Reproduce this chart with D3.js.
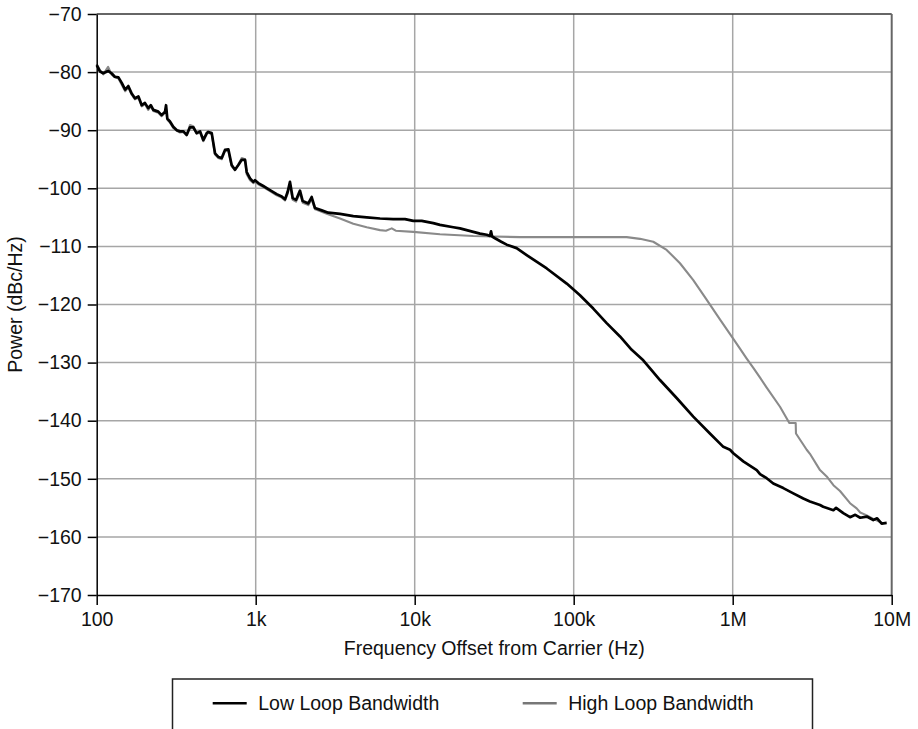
<!DOCTYPE html>
<html>
<head>
<meta charset="utf-8">
<script src="https://cdn.jsdelivr.net/npm/d3@7"></script>
<style>
  html, body { margin: 0; padding: 0; background: #fff; }
  svg { display: block; }
  text { font-family: "Liberation Sans", Arial, Helvetica, sans-serif; fill: #111; }
</style>
</head>
<body>
<svg id="chart" width="918" height="729"></svg>
<script>
const xTickValues = [100, 1e3, 1e4, 1e5, 1e6, 1e7];
const xTickLabels = ["100", "1k", "10k", "100k", "1M", "10M"];
const yTickValues = [-70, -80, -90, -100, -110, -120, -130, -140, -150, -160, -170];
const yTickLabels = ["\u221270", "\u221280", "\u221290", "\u2212100", "\u2212110", "\u2212120", "\u2212130", "\u2212140", "\u2212150", "\u2212160", "\u2212170"];
const seriesNames = ["Low Loop Bandwidth", "High Loop Bandwidth"];

const lowFreq = [100,105,110,118,124,130,137,144,151,158,166,174,183,192,201,211,219,227,244,256,269,273,278,289,303,319,334,351,368,386,405,425,447,468,492,503,529,555,582,611,641,673,706,741,778,817,857,878,921,966,990,1038,1116,1230,1355,1458,1528,1589,1643,1709,1793,1899,1975,2142,2249,2360,2602,2861,3390,4110,4992,6052,7320,8690,9800,11070,13090,14420,17500,19270,23360,25740,28370,29730,30200,30700,32000,35000,37900,43750,50600,67700,90400,109500,132800,161200,195500,231600,273800,348800,444000,565000,719000,873000,962000,1009000,1166000,1416000,1486000,1636000,1800000,2081000,2405000,2780000,3060000,3540000,3710000,4300000,4470000,4960000,5470000,5900000,6340000,6970000,7660000,8100000,8650000,9300000];
const lowPower = [-78.8,-79.9,-80.2,-79.8,-80.2,-80.8,-80.9,-81.9,-83.0,-82.4,-83.7,-84.5,-84.2,-85.7,-85.3,-86.2,-85.7,-86.5,-86.8,-87.4,-86.8,-85.7,-88.0,-88.5,-89.4,-90.0,-90.2,-90.2,-90.8,-89.5,-89.5,-90.5,-90.2,-91.7,-90.5,-90.3,-90.5,-94.0,-94.6,-94.8,-93.4,-93.3,-96.0,-96.8,-96.0,-95.1,-95.1,-97.2,-98.3,-98.9,-98.6,-99.1,-99.6,-100.3,-101.0,-101.4,-101.9,-100.6,-98.9,-101.7,-102.0,-100.4,-102.2,-102.6,-101.5,-103.4,-103.8,-104.2,-104.4,-104.8,-105.0,-105.2,-105.3,-105.3,-105.6,-105.6,-106.0,-106.3,-106.7,-106.9,-107.5,-107.8,-108.0,-108.2,-107.4,-108.3,-108.6,-109.2,-109.7,-110.3,-111.5,-113.8,-116.4,-118.4,-120.7,-123.2,-125.5,-127.8,-129.6,-133.0,-136.1,-139.3,-142.2,-144.5,-145.0,-145.6,-147.0,-148.5,-149.2,-149.9,-150.8,-151.6,-152.5,-153.4,-153.9,-154.5,-154.8,-155.4,-155.0,-155.9,-156.6,-156.2,-156.7,-156.5,-157.1,-156.8,-157.7,-157.6];

const highFreq = [100,105,110,118,124,130,137,144,151,158,166,174,183,192,201,211,219,227,244,256,269,273,278,289,303,319,334,351,368,386,405,425,447,468,492,503,529,555,582,611,641,673,706,741,778,817,857,878,921,966,990,1038,1116,1230,1355,1458,1528,1589,1643,1709,1793,1899,1975,2142,2249,2360,2418,2796,3390,4110,4992,6052,6590,7170,7600,9800,14420,23360,31200,45900,100000,215400,261300,316600,384000,466000,565000,687000,833000,1009000,1111000,1225000,1348000,1486000,1636000,1984000,2271000,2490000,2500000,2920000,3060000,3540000,3900000,4300000,4730000,5470000,6020000,6340000,6970000,7660000,8850000];
const highPower = [-78.6,-79.7,-80.4,-79.1,-80.4,-80.9,-81.1,-82.2,-83.3,-82.6,-83.9,-84.7,-84.4,-85.9,-85.5,-86.5,-85.9,-86.7,-87.0,-87.6,-87.0,-86.3,-88.2,-88.7,-89.6,-90.1,-90.4,-90.3,-90.9,-89.1,-89.3,-90.6,-90.4,-91.9,-90.7,-90.4,-90.7,-94.2,-94.8,-95.0,-93.6,-93.5,-96.2,-96.9,-95.9,-94.8,-95.0,-97.6,-98.6,-99.1,-98.9,-99.3,-99.8,-100.5,-101.2,-101.6,-102.1,-100.9,-99.3,-102.0,-102.3,-100.8,-102.5,-102.9,-101.9,-103.6,-103.7,-104.4,-105.2,-106.1,-106.7,-107.2,-107.3,-106.9,-107.3,-107.5,-107.9,-108.2,-108.3,-108.4,-108.4,-108.4,-108.7,-109.2,-110.6,-112.9,-115.8,-119.2,-122.6,-125.9,-127.6,-129.3,-130.9,-132.6,-134.3,-137.6,-140.4,-140.4,-142.2,-145.0,-145.7,-148.5,-149.6,-151.1,-152.1,-154.2,-155.1,-155.8,-156.3,-156.9,-157.7];

const svg = d3.select("#chart");
const L = 96.7, R = 891.7, T = 14, B = 595;
const x = d3.scaleLog().domain([100, 1e7]).range([L, R]);
const y = d3.scaleLinear().domain([-170, -70]).range([B, T]);
const FS = "19.5px";

// grid
const grid = svg.append("g");
grid.selectAll("line.v").data(xTickValues.slice(1, -1)).enter().append("line")
  .attr("x1", d => x(d)).attr("x2", d => x(d)).attr("y1", T).attr("y2", B)
  .attr("stroke", "#a6a6a6").attr("stroke-width", 1.5);
grid.selectAll("line.h").data(yTickValues.slice(1, -1)).enter().append("line")
  .attr("x1", L).attr("x2", R).attr("y1", d => y(d)).attr("y2", d => y(d))
  .attr("stroke", "#a6a6a6").attr("stroke-width", 1.5);
// frame top/right
svg.append("line").attr("x1", L).attr("x2", R).attr("y1", y(-70)).attr("y2", y(-70))
  .attr("stroke", "#333").attr("stroke-width", 1.5);
svg.append("line").attr("x1", x(1e7)).attr("x2", x(1e7)).attr("y1", T).attr("y2", B)
  .attr("stroke", "#666").attr("stroke-width", 2);

// series
const line = d3.line().x(d => x(d[0])).y(d => y(d[1]));
const highData = highFreq.map((f, i) => [f, highPower[i]]);
const lowData = lowFreq.map((f, i) => [f, lowPower[i]]);
svg.append("path").datum(highData).attr("d", line)
  .attr("fill", "none").attr("stroke", "#8a8a8a").attr("stroke-width", 2.1)
  .attr("stroke-linejoin", "round");
svg.append("path").datum(lowData).attr("d", line)
  .attr("fill", "none").attr("stroke", "#000").attr("stroke-width", 2.7)
  .attr("stroke-linejoin", "round");

// axes
const xAxis = d3.axisBottom(x).tickValues(xTickValues)
  .tickFormat((d, i) => xTickLabels[i]).tickSize(10).tickPadding(7).tickSizeOuter(0);
const gx = svg.append("g").attr("transform", `translate(0,${B})`).call(xAxis);
gx.select(".domain").attr("stroke", "#000").attr("stroke-width", 1.5);
gx.selectAll(".tick line").attr("stroke", "#000").attr("stroke-width", 1.5);
gx.selectAll("text").style("font-size", FS).attr("fill", "#111")
  .style("font-family", '"Liberation Sans", Arial, sans-serif');

const yAxis = d3.axisLeft(y).tickValues(yTickValues)
  .tickFormat((d, i) => yTickLabels[i]).tickSize(9).tickPadding(6).tickSizeOuter(0);
const gy = svg.append("g").attr("transform", `translate(${L},0)`).call(yAxis);
gy.select(".domain").attr("stroke", "#000").attr("stroke-width", 1.5);
gy.selectAll(".tick line").attr("stroke", "#000").attr("stroke-width", 1.5);
gy.selectAll("text").style("font-size", FS).attr("fill", "#111")
  .style("font-family", '"Liberation Sans", Arial, sans-serif');

// axis titles
svg.append("text").attr("x", (L + R) / 2).attr("y", 655).attr("text-anchor", "middle")
  .style("font-size", FS).text("Frequency Offset from Carrier (Hz)");
svg.append("text").attr("transform", `translate(22,${(T + B) / 2}) rotate(-90)`)
  .attr("text-anchor", "middle").style("font-size", FS).text("Power (dBc/Hz)");

// legend
const lg = svg.append("g");
lg.append("rect").attr("x", 172.5).attr("y", 679).attr("width", 640).attr("height", 70)
  .attr("fill", "none").attr("stroke", "#222").attr("stroke-width", 1.5);
const items = [
  { name: seriesNames[0], color: "#000", w: 2.6, x0: 212.7 },
  { name: seriesNames[1], color: "#777", w: 2.6, x0: 522.7 }
];
items.forEach(it => {
  lg.append("line").attr("x1", it.x0).attr("x2", it.x0 + 34).attr("y1", 703.3).attr("y2", 703.3)
    .attr("stroke", it.color).attr("stroke-width", it.w);
  lg.append("text").attr("x", it.x0 + 45.5).attr("y", 710).style("font-size", FS).text(it.name);
});
</script>
</body>
</html>
